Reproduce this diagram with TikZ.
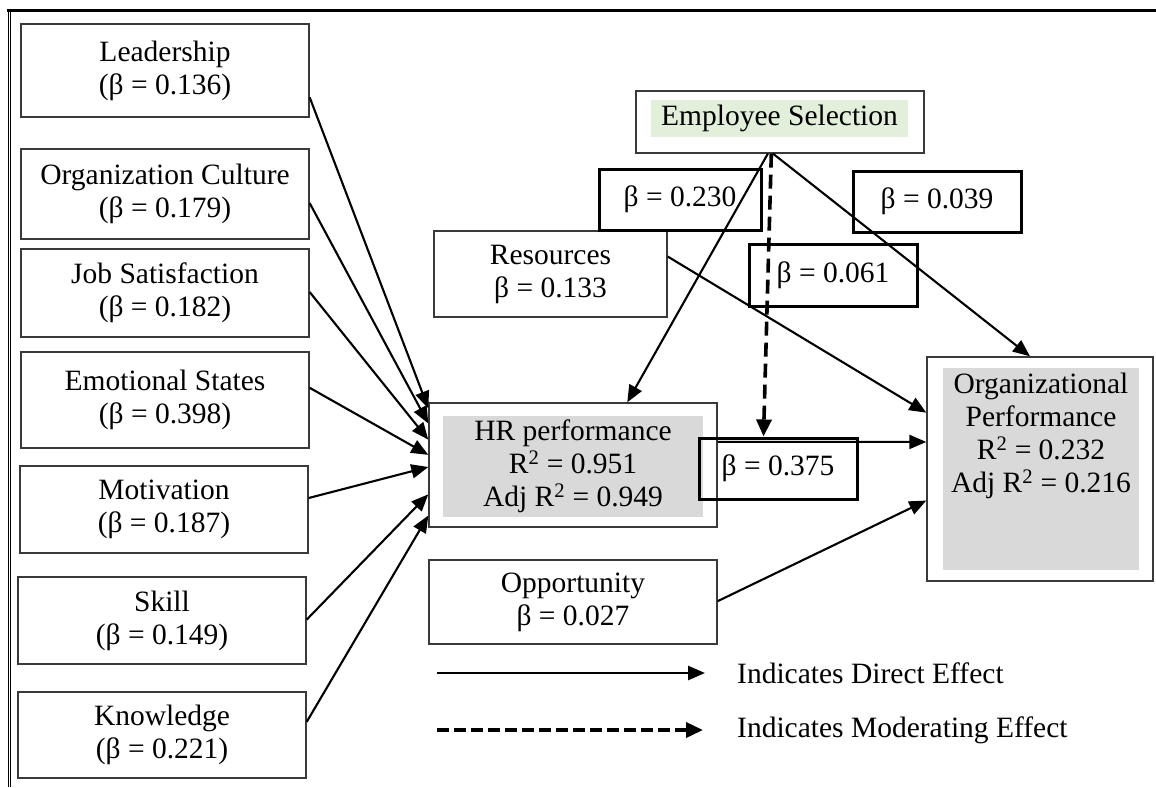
\documentclass[tikz,border=0pt]{standalone}
\usepackage{fontspec}
\setmainfont{Liberation Serif}
\usetikzlibrary{arrows.meta,calc}
\definecolor{boxline}{HTML}{3A3A3A}
\definecolor{hrgray}{HTML}{D9D9D9}
\definecolor{selgreen}{HTML}{E2EFDA}
\begin{document}
\begin{tikzpicture}[x=1pt,y=-1pt,
  every node/.style={font=\fontsize{29.5}{33}\selectfont, inner sep=0pt, align=center},
  var/.style={draw=boxline, line width=1.4pt, minimum width=288pt},
  coef/.style={draw=black, line width=3pt, minimum height=61pt},
  link/.style={-{Triangle[length=17pt,width=14pt]}, line width=2.1pt},
  modlink/.style={-{Triangle[length=17pt,width=15pt]}, line width=3.6pt, dash pattern=on 14pt off 7pt},
]
\useasboundingbox (0,0) rectangle (1156,787);

% frame
\draw[line width=2.4pt] (7,10.5) -- (1156,10.5);
\draw[line width=1.4pt] (8.2,10) -- (8.2,787);
\draw[line width=1pt] (10.4,10) -- (10.4,787);

% predictors of HR performance
\node[var, minimum height=93pt] (lead) at (165,70.5) {Leadership\\(β = 0.136)};
\node[var, minimum height=90pt] (cult) at (165,194) {Organization Culture\\(β = 0.179)};
\node[var, minimum height=88pt] (jobs) at (165,293) {Job Satisfaction\\(β = 0.182)};
\node[var, minimum height=96pt] (emo) at (165,400) {Emotional States\\(β = 0.398)};
\node[var, minimum height=87pt] (moti) at (164,509.5) {Motivation\\(β = 0.187)};
\node[var, minimum height=87pt] (skill) at (162,620.5) {Skill\\(β = 0.149)};
\node[var, minimum height=86pt] (know) at (162,735) {Knowledge\\(β = 0.221)};

% moderator
\node[var, minimum height=62pt] (es) at (780,122) {};
\node[fill=selgreen, minimum width=257pt, minimum height=37pt] (estext) at (779.5,118.5) {Employee Selection};

% HR performance
\node[var, minimum height=124pt] (hr) at (573,465) {};
\node[fill=hrgray, minimum width=260pt, minimum height=101pt] (hrtext) at (573,466.5)
  {HR performance\\R\textsuperscript{2} = 0.951\\Adj R\textsuperscript{2} = 0.949};

% organizational performance
\node[var, minimum width=226pt, minimum height=224pt] (op) at (1040,469) {};
\node[fill=hrgray, minimum width=196pt, minimum height=202pt] (opfill) at (1041,469) {};
\node (optext) at (1041,435.5)
  {Organizational\\Performance\\R\textsuperscript{2} = 0.232\\Adj R\textsuperscript{2} = 0.216};

% other predictors
\node[var, minimum width=233pt, minimum height=86pt] (res) at (550.5,274) {Resources\\β = 0.133};
\node[var, minimum height=84pt] (opp) at (573,602) {Opportunity\\β = 0.027};

% coefficient labels
\node[coef, minimum width=162pt] (b230) at (680,199.5) {β = 0.230};
\node[coef, minimum width=168pt] (b039) at (937,201.5) {β = 0.039};
\node[coef, minimum width=168pt, minimum height=62pt] (b061) at (833,275) {β = 0.061};
\node[coef, minimum width=158pt] (b375) at (778,468.5) {β = 0.375};

% paths into HR performance
\draw[link] ($(lead.north east)!0.785!(lead.south east)$) -- ($(hr.north west)!0.048!(hr.south west)$);
\draw[link] ($(cult.north east)!0.6!(cult.south east)$) -- ($(hr.north west)!0.169!(hr.south west)$);
\draw[link] ($(jobs.north east)!0.49!(jobs.south east)$) -- ($(hr.north west)!0.298!(hr.south west)$);
\draw[link] ($(emo.north east)!0.375!(emo.south east)$) -- ($(hr.north west)!0.419!(hr.south west)$);
\draw[link] ($(moti.north east)!0.37!(moti.south east)$) -- ($(hr.north west)!0.516!(hr.south west)$);
\draw[link] ($(skill.north east)!0.49!(skill.south east)$) -- ($(hr.north west)!0.734!(hr.south west)$);
\draw[link] ($(know.north east)!0.35!(know.south east)$) -- ($(hr.north west)!0.903!(hr.south west)$);

% paths from employee selection
\draw[link] ($(es.south west)!0.458!(es.south east)$) -- ($(hr.north west)!0.6875!(hr.north east)$);
\draw[link] ($(es.south west)!0.476!(es.south east)$) -- ($(op.north west)!0.456!(op.north east)$);
\draw[modlink] ($(es.south west)!0.47!(es.south east)$) -- ($(b375.north west)!0.41!(b375.north east)$);

% paths into organizational performance
\draw[link] ($(res.north east)!0.3!(res.south east)$) -- ($(op.north west)!0.25!(op.south west)$);
\draw[link] ($(hr.north east)!0.315!(hr.south east)$) -- ($(op.north west)!0.38!(op.south west)$);
\draw[link] ($(opp.north east)!0.49!(opp.south east)$) -- ($(op.north west)!0.64!(op.south west)$);

% legend
\coordinate (ldirA) at (437,673);
\coordinate (ldirB) at (705,673);
\coordinate (lmodA) at (437,730);
\coordinate (lmodB) at (703,730);
\draw[link, line width=2.6pt] (ldirA) -- (ldirB);
\draw[modlink, line width=3.6pt, dash pattern=on 12pt off 5pt] (lmodA) -- (lmodB);
\node[anchor=west] (ldir) at (737,673) {Indicates Direct Effect};
\node[anchor=west] (lmod) at (737,730) {Indicates Moderating Effect};
\end{tikzpicture}
\end{document}
